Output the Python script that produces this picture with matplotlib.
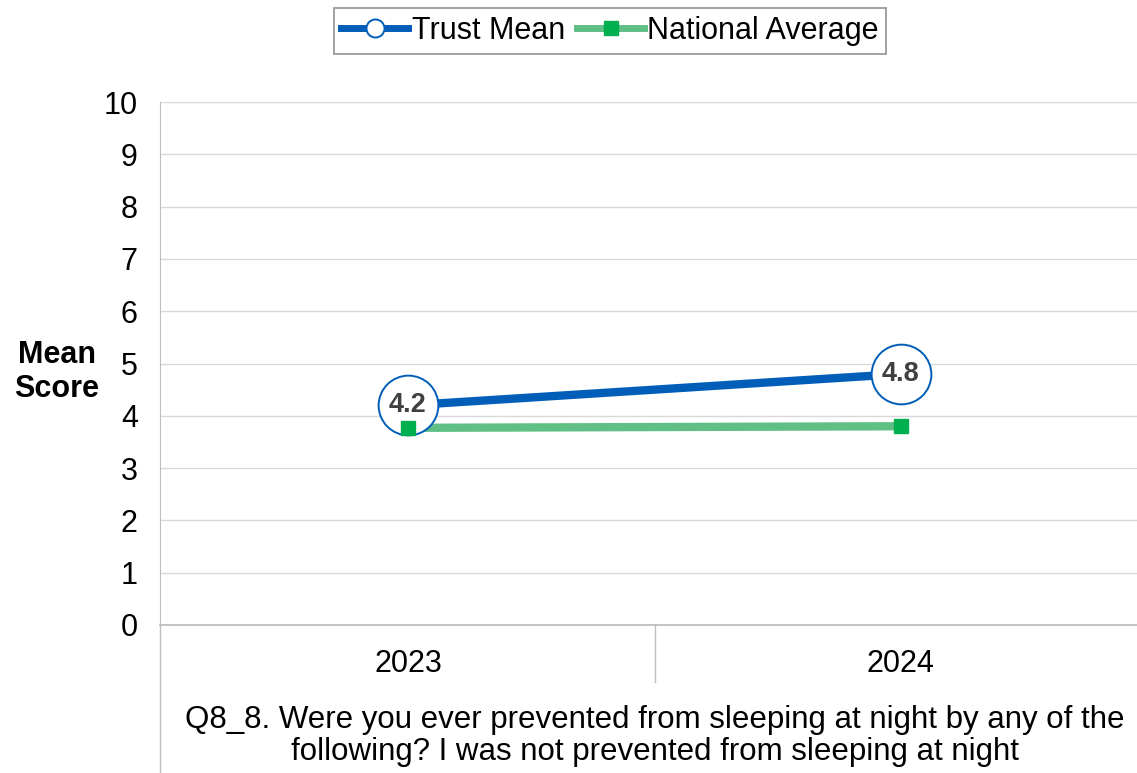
import matplotlib
matplotlib.use("Agg")
import matplotlib.pyplot as plt
from matplotlib.lines import Line2D

plt.rcParams['font.family'] = ['Liberation Sans', 'DejaVu Sans']

years = ["2023", "2024"]
trust_mean = [4.2, 4.8]
national_avg = [3.77, 3.80]
y_ticks = [0, 1, 2, 3, 4, 5, 6, 7, 8, 9, 10]
question = "Q8_8. Were you ever prevented from sleeping at night by any of the\nfollowing? I was not prevented from sleeping at night"

W, H = 1137, 773
FS = 22
fig = plt.figure(figsize=(W / 100, H / 100), dpi=100)
ax = fig.add_axes([160 / W, (H - 625) / H, (W - 160) / W, (625 - 102) / H])

x = list(range(len(years)))
blue = "#005EB8"
green_line = "#5FBF85"
green_mark = "#00B050"

ax.plot(x, national_avg, color=green_line, lw=6, zorder=3, solid_capstyle='butt')
ax.plot(x, national_avg, ls='none', marker='s', ms=10.5, mfc=green_mark, mec=green_mark, zorder=5)
ax.plot(x, trust_mean, color=blue, lw=6, zorder=3, solid_capstyle='butt')
ax.plot(x, trust_mean, ls='none', marker='o', ms=43, mfc='white', mec=blue, mew=1.4, zorder=4)
for xi, v in zip(x, trust_mean):
    ax.text(xi, v, f"{v:.1f}", ha='center', va='center', fontsize=19.5, fontweight='bold',
            color='#404040', zorder=6)

ax.set_xlim(-0.503, 1.479)
ax.set_ylim(0, 10)
ax.set_yticks(y_ticks)
ax.set_yticklabels([str(t) for t in y_ticks], fontsize=FS)
ax.tick_params(axis='y', length=0, pad=16)
ax.set_xticks(x)
ax.set_xticklabels(years, fontsize=FS)
ax.tick_params(axis='x', length=0, pad=17)
ax.yaxis.grid(True, color='#D9D9D9', lw=1)
ax.set_axisbelow(True)
for s in ['top', 'right']:
    ax.spines[s].set_visible(False)
ax.spines['left'].set_color('#BFBFBF')
ax.spines['bottom'].set_color('#BFBFBF')
ax.spines['bottom'].set_linewidth(1.3)

# category separators
fig.add_artist(Line2D([160 / W, 160 / W], [0, (H - 625) / H], color='#BFBFBF', lw=1))
fig.add_artist(Line2D([655 / W, 655 / W], [(H - 682) / H, (H - 625) / H], color='#BFBFBF', lw=1))

fig.text(57 / W, 1 - 372 / H, "Mean\nScore", ha='center', va='center', fontsize=FS,
         fontweight='bold', linespacing=1.2)
fig.text(655 / W, 1 - 736 / H, question, ha='center', va='center', fontsize=22.5, linespacing=1.08)

handles = [
    Line2D([], [], color=blue, lw=5, marker='o', ms=13, mfc='white', mec=blue, mew=1.4),
    Line2D([], [], color=green_line, lw=5, marker='s', ms=10, mfc=green_mark, mec=green_mark),
]
leg = fig.legend(handles, ["Trust Mean", "National Average"], loc='center',
                 bbox_to_anchor=(610 / W, 1 - 31 / H), ncol=2, fontsize=FS, frameon=True,
                 fancybox=False, edgecolor='#808080', handlelength=2.2, handletextpad=0.1,
                 columnspacing=0.4, borderpad=0.25)
leg.get_frame().set_linewidth(1.3)

fig.savefig("out.png", dpi=100)
